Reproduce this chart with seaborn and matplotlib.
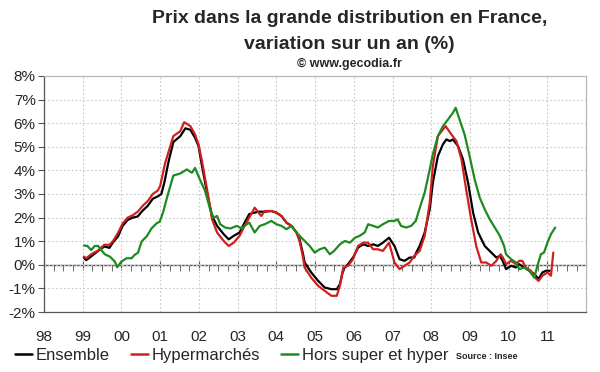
import numpy as np
import pandas as pd
import matplotlib
matplotlib.use("Agg")
import matplotlib.pyplot as plt
import seaborn as sns

# ---- data: year-over-year change (%) ----
ens_x = [1999.03, 1999.09, 1999.22, 1999.39, 1999.56, 1999.69, 1999.78, 1999.91,
         2000.03, 2000.16, 2000.29, 2000.42, 2000.55, 2000.68, 2000.81, 2000.94,
         2001.03, 2001.11, 2001.22, 2001.34, 2001.52, 2001.65, 2001.78, 2001.90,
         2001.99, 2002.08, 2002.21, 2002.34, 2002.47, 2002.64, 2002.77, 2002.90,
         2003.05, 2003.18, 2003.30, 2003.53, 2003.70, 2003.87, 2004.00, 2004.13,
         2004.26, 2004.39, 2004.52, 2004.60, 2004.69, 2004.73, 2004.90, 2005.08,
         2005.25, 2005.42, 2005.56, 2005.64, 2005.73, 2005.85, 2005.98, 2006.11,
         2006.24, 2006.37, 2006.50, 2006.62, 2006.75, 2006.91, 2007.05, 2007.18,
         2007.31, 2007.44, 2007.56, 2007.62, 2007.70, 2007.83, 2007.96, 2008.04,
         2008.17, 2008.30, 2008.39, 2008.48, 2008.56, 2008.69, 2008.82, 2008.95,
         2009.08, 2009.21, 2009.38, 2009.55, 2009.68, 2009.77, 2009.85, 2009.93,
         2010.06, 2010.19, 2010.27, 2010.40, 2010.53, 2010.66, 2010.77, 2010.87,
         2010.96, 2011.06]
ens_y = [0.30, 0.20, 0.36, 0.58, 0.78, 0.72, 0.95, 1.20,
         1.65, 1.90, 2.00, 2.05, 2.30, 2.50, 2.80, 2.90,
         3.00, 3.50, 4.40, 5.20, 5.45, 5.78, 5.72, 5.38,
         5.03, 4.18, 3.06, 2.07, 1.65, 1.30, 1.08, 1.23,
         1.37, 1.79, 2.15, 2.25, 2.25, 2.28, 2.21, 2.07,
         1.79, 1.65, 1.37, 1.08, 0.45, 0.10, -0.32, -0.68,
         -0.96, -1.03, -1.03, -0.82, -0.18, 0.03, 0.31, 0.73,
         0.87, 0.80, 0.87, 0.80, 0.94, 1.15, 0.80, 0.24,
         0.17, 0.31, 0.31, 0.55, 0.80, 1.37, 2.35, 3.48,
         4.60, 5.10, 5.31, 5.24, 5.31, 5.03, 4.46, 3.48,
         2.21, 1.37, 0.80, 0.52, 0.31, 0.38, 0.15, -0.18,
         -0.04, -0.11, 0.03, -0.11, -0.25, -0.39, -0.60, -0.32,
         -0.25, -0.25]

hyp_x = [1999.03, 1999.09, 1999.22, 1999.39, 1999.56, 1999.69, 1999.78, 1999.91,
         2000.03, 2000.16, 2000.29, 2000.42, 2000.55, 2000.68, 2000.81, 2000.94,
         2001.00, 2001.13, 2001.34, 2001.52, 2001.62, 2001.78, 2001.90, 2001.99,
         2002.08, 2002.21, 2002.34, 2002.47, 2002.64, 2002.77, 2002.90, 2003.05,
         2003.18, 2003.30, 2003.44, 2003.61, 2003.70, 2003.87, 2004.00, 2004.13,
         2004.26, 2004.39, 2004.52, 2004.60, 2004.69, 2004.73, 2004.90, 2005.08,
         2005.25, 2005.42, 2005.56, 2005.64, 2005.73, 2005.85, 2005.98, 2006.11,
         2006.24, 2006.37, 2006.50, 2006.62, 2006.75, 2006.91, 2007.05, 2007.18,
         2007.31, 2007.44, 2007.56, 2007.70, 2007.83, 2007.96, 2008.04, 2008.17,
         2008.30, 2008.37, 2008.52, 2008.65, 2008.78, 2008.90, 2009.03, 2009.16,
         2009.29, 2009.42, 2009.55, 2009.68, 2009.79, 2009.85, 2009.93, 2010.06,
         2010.19, 2010.27, 2010.35, 2010.44, 2010.57, 2010.68, 2010.77, 2010.87,
         2011.00, 2011.09, 2011.15]
hyp_y = [0.35, 0.28, 0.45, 0.60, 0.85, 0.85, 1.00, 1.35,
         1.75, 2.00, 2.10, 2.25, 2.50, 2.70, 3.00, 3.15,
         3.34, 4.32, 5.45, 5.66, 6.04, 5.87, 5.52, 5.10,
         4.39, 3.20, 1.93, 1.37, 1.01, 0.80, 0.94, 1.23,
         1.65, 2.00, 2.42, 2.07, 2.28, 2.28, 2.21, 2.07,
         1.79, 1.65, 1.37, 1.00, 0.30, -0.11, -0.54, -0.89,
         -1.10, -1.31, -1.31, -0.89, -0.11, -0.04, 0.24, 0.80,
         0.94, 0.94, 0.66, 0.66, 0.59, 0.94, 0.10, -0.18,
         -0.04, 0.10, 0.38, 0.59, 1.23, 2.63, 4.18, 5.45,
         5.73, 5.87, 5.52, 5.24, 4.46, 3.20, 1.93, 0.80,
         0.10, 0.10, -0.04, 0.17, 0.45, 0.31, 0.03, 0.17,
         0.03, 0.17, 0.17, -0.11, -0.25, -0.54, -0.68, -0.46,
         -0.32, -0.46, 0.52]

hors_x = [1999.03, 1999.12, 1999.22, 1999.31, 1999.40, 1999.48, 1999.57, 1999.70,
          1999.83, 1999.89, 2000.00, 2000.13, 2000.26, 2000.34, 2000.43, 2000.52,
          2000.65, 2000.78, 2000.91, 2000.99, 2001.08, 2001.16, 2001.25, 2001.34,
          2001.52, 2001.69, 2001.82, 2001.90, 2002.03, 2002.16, 2002.29, 2002.38,
          2002.47, 2002.55, 2002.68, 2002.81, 2002.98, 2003.10, 2003.18, 2003.30,
          2003.44, 2003.57, 2003.70, 2003.87, 2004.00, 2004.13, 2004.26, 2004.39,
          2004.52, 2004.69, 2004.86, 2004.99, 2005.12, 2005.25, 2005.38, 2005.49,
          2005.64, 2005.77, 2005.90, 2006.03, 2006.15, 2006.28, 2006.37, 2006.50,
          2006.62, 2006.75, 2006.91, 2007.05, 2007.13, 2007.22, 2007.35, 2007.48,
          2007.60, 2007.70, 2007.83, 2007.96, 2008.04, 2008.17, 2008.30, 2008.43,
          2008.56, 2008.63, 2008.73, 2008.86, 2008.99, 2009.12, 2009.25, 2009.38,
          2009.51, 2009.64, 2009.77, 2009.88, 2009.93, 2010.06, 2010.19, 2010.27,
          2010.40, 2010.53, 2010.66, 2010.74, 2010.83, 2010.91, 2011.00, 2011.09,
          2011.20]
hors_y = [0.82, 0.80, 0.63, 0.80, 0.80, 0.63, 0.45, 0.35,
          0.14, -0.10, 0.14, 0.28, 0.28, 0.42, 0.52, 0.99,
          1.20, 1.55, 1.76, 1.83, 2.25, 2.75, 3.27, 3.78,
          3.87, 4.04, 3.90, 4.10, 3.60, 3.13, 2.35, 2.00,
          2.07, 1.72, 1.58, 1.54, 1.65, 1.54, 1.65, 1.79,
          1.37, 1.65, 1.72, 1.86, 1.72, 1.65, 1.51, 1.65,
          1.37, 1.08, 0.80, 0.52, 0.66, 0.73, 0.45, 0.59,
          0.87, 1.01, 0.94, 1.15, 1.23, 1.37, 1.72, 1.65,
          1.58, 1.72, 1.86, 1.86, 1.93, 1.65, 1.58, 1.65,
          1.86, 2.40, 3.06, 4.04, 4.68, 5.45, 5.87, 6.15,
          6.44, 6.65, 6.15, 5.52, 4.60, 3.62, 2.85, 2.35,
          1.93, 1.58, 1.23, 0.80, 0.45, 0.24, 0.10, -0.18,
          -0.11, -0.25, -0.54, -0.04, 0.45, 0.52, 0.94, 1.30,
          1.58]

series_names = ["Ensemble", "Hypermarchés", "Hors super et hyper"]
series_colors = ["#000000", "#d01f1f", "#1f8a1f"]
year_ticks = list(range(1998, 2012))
year_labels = [f"{y % 100:02d}" for y in year_ticks]
pct_ticks = list(range(-2, 9))

df = pd.concat([
    pd.DataFrame({"annee": ens_x, "var": ens_y, "serie": series_names[0]}),
    pd.DataFrame({"annee": hyp_x, "var": hyp_y, "serie": series_names[1]}),
    pd.DataFrame({"annee": hors_x, "var": hors_y, "serie": series_names[2]}),
])

# ---- style ----
sns.set_style("white")
plt.rcParams["font.family"] = ["Liberation Sans", "DejaVu Sans"]

fig = plt.figure(figsize=(6, 3.72), dpi=100)
ax = fig.add_axes([0.0733, 0.161, 0.9037, 0.635])

sns.lineplot(data=df, x="annee", y="var", hue="serie", hue_order=series_names,
             palette=series_colors, linewidth=1.6, ax=ax, legend=False,
             estimator=None, sort=False)

ax.set_xlim(1998, 2012)
ax.set_ylim(-2, 8)
ax.set_xticks(year_ticks)
ax.set_xticklabels(year_labels, fontsize=11)
ax.set_yticks(pct_ticks)
ax.set_yticklabels([f"{v}%" for v in pct_ticks], fontsize=11)
ax.set_xlabel("")
ax.set_ylabel("")
ax.grid(True, color="#c8c8c8", linestyle=(0, (1.5, 2)), linewidth=0.8)
ax.tick_params(axis="x", length=0, pad=13)
ax.tick_params(axis="y", length=4, direction="out", color="#555555", pad=2, left=True)
for side in ["top", "right"]:
    ax.spines[side].set_color("#b8b8b8")
    ax.spines[side].set_linewidth(0.9)
for side in ["left", "bottom"]:
    ax.spines[side].set_color("#555555")
    ax.spines[side].set_linewidth(0.9)

# axis line at 0 % with quarterly ticks pointing up
zero = ax.secondary_xaxis(0.2)
zero.set_xticks(year_ticks)
zero.set_xticks(np.arange(1998, 2012, 0.25), minor=True)
zero.tick_params(which="major", direction="inout", length=7, color="#555555")
zero.tick_params(which="minor", direction="out", length=4, color="#555555")
zero.set_xticklabels([])
for s in zero.spines.values():
    s.set_color("#555555")
    s.set_linewidth(1.0)

# ---- titles ----
fig.text(0.583, 0.951, "Prix dans la grande distribution en France,", ha="center",
         va="center", fontsize=14, fontweight="bold")
fig.text(0.583, 0.88, "variation sur un an (%)", ha="center", va="center",
         fontsize=14, fontweight="bold")
fig.text(0.583, 0.828, "© www.gecodia.fr", ha="center", va="center",
         fontsize=9, fontweight="bold")

# ---- legend ----
handles = [plt.Line2D([], [], color=c, linewidth=1.8) for c in series_colors]
fig.legend(handles, series_names, loc="center left", bbox_to_anchor=(0.006, 0.045),
           ncol=3, frameon=False, fontsize=12, handlelength=1.0, handletextpad=0.25,
           columnspacing=1.25, borderpad=0.2)
fig.text(0.76, 0.042, "Source : Insee", ha="left", va="center", fontsize=6.5,
         fontweight="bold")

fig.savefig("out.png", dpi=100)
